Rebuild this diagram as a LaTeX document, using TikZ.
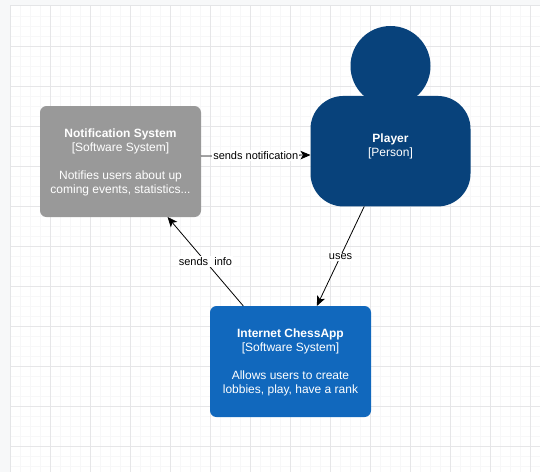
\documentclass[tikz,border=0pt]{standalone}
\usepackage{fontspec}
\setmainfont{Liberation Sans}
\usetikzlibrary{arrows.meta}
\definecolor{outerbg}{HTML}{F7F8F9}
\definecolor{gridmajor}{HTML}{E6E6E8}
\definecolor{gridminor}{HTML}{F7F7F8}
\definecolor{edgeline}{HTML}{E4E5E7}
\definecolor{greybox}{HTML}{999999}
\definecolor{bluebox}{HTML}{1168BD}
\definecolor{navybox}{HTML}{08427B}
\tikzset{
  x=1pt,y=-1pt,
  sysbox/.style={rectangle,rounded corners=6.5pt,minimum width=161pt,minimum height=111pt,
    inner sep=0pt,outer sep=0pt,text=white,align=center,font=\fontsize{12}{14}\selectfont},
  personbody/.style={rectangle,rounded corners=33pt,minimum width=160pt,minimum height=110.5pt,
    inner sep=0pt,outer sep=0pt,text=white,align=center,font=\fontsize{12}{14}\selectfont},
  personhead/.style={circle,minimum size=80pt,inner sep=0pt,outer sep=0pt},
  conn/.style={draw=black,line width=0.8pt,-{Stealth[length=10pt,width=8.5pt,inset=2.5pt]}},
  connlabel/.style={fill=white,inner sep=1pt,font=\fontsize{11}{13}\selectfont,text=black},
}
\begin{document}
\begin{tikzpicture}
\useasboundingbox (0,0) rectangle (544,472);
\fill[white] (0,0) rectangle (544,472);
\fill[outerbg] (0,0) rectangle (10,472);
\fill[outerbg] (0,0) rectangle (540,5);
\foreach \gx in {20,30,40,60,70,80,100,110,120,140,150,160,180,190,200,220,230,240,260,270,280,300,310,320,340,350,360,380,390,400,420,430,440,460,470,480,500,510,520}
  \draw[gridminor,line width=0.8pt] (\gx,6) -- (\gx,472);
\foreach \gy in {16,26,36,56,66,76,96,106,116,136,146,156,176,186,196,216,226,236,256,266,276,296,306,316,336,346,356,376,386,396,416,426,436,456,466}
  \draw[gridminor,line width=0.8pt] (10,\gy) -- (540,\gy);
\foreach \gx in {50,90,...,530}
  \draw[gridmajor,line width=0.8pt] (\gx,6) -- (\gx,472);
\foreach \gy in {46,86,...,446}
  \draw[gridmajor,line width=0.8pt] (10,\gy) -- (540,\gy);
\draw[edgeline,line width=1pt] (10,472) -- (10,5.5) -- (540,5.5);

\node[personhead,fill=navybox] (head) at (390.5,66) {};
\node[personbody,fill=navybox] (player) at (390.5,151.2) {\textbf{Player}\\{}[Person]\\[-1pt]\mbox{}};
\node[sysbox,fill=greybox] (notif) at (120.5,161.5)
  {\mbox{}\\[-4pt]\textbf{Notification System}\\{}[Software System]\\[14pt]Notifies users about up\\coming events, statistics...};
\node[sysbox,fill=bluebox] (chess) at (290.5,361.5)
  {\mbox{}\\[-4pt]\textbf{Internet ChessApp}\\{}[Software System]\\[14pt]Allows users to create\\lobbies, play, have a rank};

\draw[conn] ([yshift=5.5pt]notif.east) -- node[connlabel] {sends notification} ([yshift=-3.8pt]player.west);
\draw[conn] (chess) -- node[connlabel] {sends\ \ info} (notif);
\draw[conn] (player) -- node[connlabel,yshift=-0.8pt] {uses} (chess);
\end{tikzpicture}
\end{document}
